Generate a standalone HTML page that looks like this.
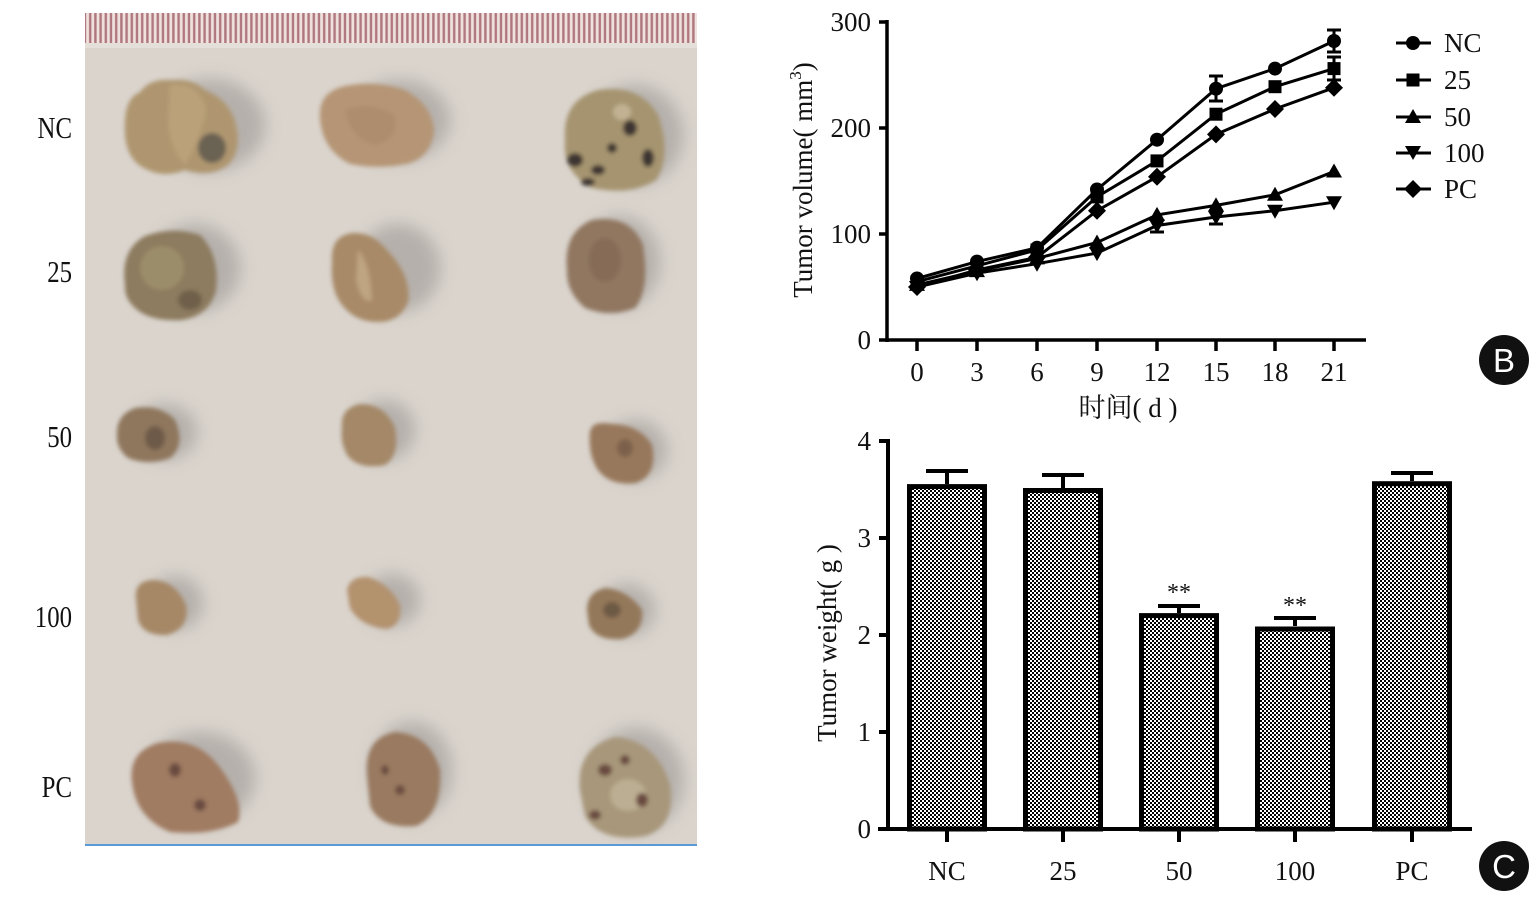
<!DOCTYPE html>
<html><head><meta charset="utf-8"><style>
html,body{margin:0;padding:0;background:#fff;}
svg{display:block;}
text{font-family:"Liberation Serif","Noto Serif CJK SC",serif;fill:#111;}
</style></head><body>
<svg width="1531" height="903" viewBox="0 0 1531 903" xmlns="http://www.w3.org/2000/svg">
<defs>
<pattern id="ck" width="4" height="4" patternUnits="userSpaceOnUse">
<rect width="4" height="4" fill="#fff"/><rect width="2" height="2" fill="#000"/><rect x="2" y="2" width="2" height="2" fill="#000"/>
</pattern>
<pattern id="ruler" width="5.2" height="30" patternUnits="userSpaceOnUse">
<rect width="5.2" height="30" fill="#efe2de"/><rect x="0.6" width="2.4" height="30" fill="#b0777e"/>
</pattern>
<filter id="bl" x="-30%" y="-30%" width="160%" height="160%"><feGaussianBlur stdDeviation="2"/></filter>
<filter id="bl2" x="-50%" y="-50%" width="200%" height="200%"><feGaussianBlur stdDeviation="3.5"/></filter>
<filter id="sh" x="-50%" y="-50%" width="200%" height="200%"><feGaussianBlur stdDeviation="8"/></filter>
</defs>

<!-- Photo panel -->
<rect x="85" y="13" width="612" height="832" fill="#dad4cd"/>
<rect x="85" y="13" width="612" height="30" fill="url(#ruler)"/>
<rect x="85" y="43" width="612" height="5" fill="#e4dfd9"/>
<rect x="85" y="844" width="612" height="2" fill="#5a9ad6"/>

<!-- shadows -->
<g fill="#a9a4a0" filter="url(#sh)" opacity="0.75">
<ellipse cx="210" cy="125" rx="55" ry="46"/><ellipse cx="400" cy="120" rx="50" ry="40"/><ellipse cx="635" cy="135" rx="48" ry="50"/>
<ellipse cx="195" cy="268" rx="45" ry="44"/><ellipse cx="398" cy="268" rx="42" ry="44"/><ellipse cx="620" cy="262" rx="40" ry="46"/>
<ellipse cx="165" cy="432" rx="32" ry="28"/><ellipse cx="385" cy="430" rx="30" ry="30"/><ellipse cx="635" cy="450" rx="32" ry="30"/>
<ellipse cx="175" cy="603" rx="28" ry="27"/><ellipse cx="392" cy="600" rx="28" ry="26"/><ellipse cx="627" cy="610" rx="28" ry="26"/>
<ellipse cx="200" cy="778" rx="55" ry="46"/><ellipse cx="412" cy="770" rx="40" ry="48"/><ellipse cx="636" cy="780" rx="48" ry="52"/>
</g>
<!-- tumors -->
<g filter="url(#bl)">
<path d="M125 120 Q126 98 140 92 Q150 78 172 80 Q192 78 205 90 Q230 100 236 125 Q242 150 228 165 Q210 178 185 170 Q165 178 148 170 Q122 160 125 120Z" fill="#af9670"/>
<path d="M170 85 Q200 82 206 110 Q200 140 185 165 Q170 150 168 120Z" fill="#bba17a"/>
<ellipse cx="212" cy="148" rx="14" ry="15" fill="#6a6252"/>
<path d="M320 118 Q318 92 345 86 Q375 80 405 90 Q432 105 434 130 Q432 155 410 163 Q380 170 350 164 Q322 150 320 118Z" fill="#b59574"/>
<path d="M345 110 Q370 100 395 115 Q400 140 375 145 Q350 140 345 110Z" fill="#ad8d6e"/>
<path d="M565 140 Q562 100 598 90 Q640 84 658 115 Q672 155 656 180 Q630 196 592 188 Q562 172 565 140Z" fill="#a6946f"/>
<g fill="#3c3530"><ellipse cx="575" cy="160" rx="8" ry="7"/><ellipse cx="598" cy="170" rx="7" ry="5"/><ellipse cx="630" cy="128" rx="7" ry="8"/><ellipse cx="648" cy="158" rx="6" ry="9"/><ellipse cx="588" cy="182" rx="7" ry="4"/><ellipse cx="612" cy="148" rx="5" ry="5"/></g>
<ellipse cx="622" cy="112" rx="9" ry="8" fill="#c2b293"/>

<path d="M125 285 Q120 250 145 236 Q172 226 200 235 Q220 255 216 290 Q210 315 182 320 Q150 322 135 308 Q124 298 125 285Z" fill="#8d7c5f"/>
<ellipse cx="162" cy="268" rx="22" ry="22" fill="#9c8d6b"/>
<ellipse cx="190" cy="300" rx="12" ry="10" fill="#6f614c"/>
<path d="M332 262 Q330 236 352 233 Q372 232 385 248 Q412 275 408 302 Q400 322 378 322 Q355 322 342 305 Q330 290 332 262Z" fill="#a88a67"/>
<path d="M358 250 Q370 262 372 300 Q362 305 356 280Z" fill="#c0a582"/>
<path d="M567 270 Q563 232 592 220 Q630 214 643 245 Q650 290 635 308 Q610 318 585 308 Q566 292 567 270Z" fill="#917760"/>
<ellipse cx="605" cy="260" rx="16" ry="22" fill="#866c56"/>

<path d="M117 435 Q116 415 135 408 Q160 404 175 420 Q186 445 170 458 Q148 466 128 458 Q116 448 117 435Z" fill="#8f775d"/>
<ellipse cx="155" cy="438" rx="10" ry="12" fill="#6e5a48"/>
<path d="M342 428 Q340 408 360 404 Q385 404 395 428 Q400 455 385 465 Q358 470 347 455 Q340 442 342 428Z" fill="#a48868"/>
<path d="M590 432 Q592 420 612 424 Q640 425 652 445 Q658 475 636 483 Q610 486 598 470 Q588 455 590 432Z" fill="#98785c"/>
<ellipse cx="625" cy="448" rx="8" ry="9" fill="#7d614c"/>

<path d="M136 598 Q134 580 155 580 Q176 582 186 605 Q190 628 167 635 Q143 636 138 620Z" fill="#a68866"/>
<path d="M347 590 Q350 576 368 577 Q390 584 400 605 Q402 626 386 629 Q360 626 350 608Z" fill="#b3926e"/>
<path d="M587 610 Q587 592 605 588 Q628 590 642 610 Q644 633 622 639 Q596 641 589 625Z" fill="#94785a"/>
<ellipse cx="612" cy="610" rx="9" ry="8" fill="#6d5a45"/>

<path d="M132 782 Q128 752 158 743 Q195 736 218 765 Q245 800 238 822 Q212 836 170 832 Q136 818 132 782Z" fill="#a07c62"/>
<path d="M367 775 Q364 738 395 732 Q430 734 440 770 Q442 815 416 826 Q380 829 370 806Z" fill="#9a7a60"/>
<path d="M580 790 Q576 748 615 737 Q656 740 670 785 Q676 826 645 836 Q600 843 585 816Z" fill="#a8977a"/>
<ellipse cx="628" cy="795" rx="18" ry="16" fill="#bcae92"/>
<g fill="#6a4c40"><ellipse cx="605" cy="770" rx="7" ry="6"/><ellipse cx="642" cy="800" rx="6" ry="7"/><ellipse cx="595" cy="815" rx="6" ry="5"/><ellipse cx="625" cy="760" rx="5" ry="5"/><ellipse cx="175" cy="770" rx="6" ry="7"/><ellipse cx="200" cy="805" rx="6" ry="6"/><ellipse cx="400" cy="790" rx="5" ry="5"/><ellipse cx="385" cy="770" rx="4" ry="5"/></g>
</g>

<!-- row labels -->
<g font-size="31" text-anchor="end">
<text x="72" y="138" transform="translate(72 0) scale(0.8 1) translate(-72 0)">NC</text>
<text x="72" y="282" transform="translate(72 0) scale(0.8 1) translate(-72 0)">25</text>
<text x="72" y="447" transform="translate(72 0) scale(0.8 1) translate(-72 0)">50</text>
<text x="72" y="627" transform="translate(72 0) scale(0.8 1) translate(-72 0)">100</text>
<text x="72" y="797" transform="translate(72 0) scale(0.8 1) translate(-72 0)">PC</text>
</g>

<!-- Chart B -->
<g stroke="#000" stroke-width="3.5" fill="none">
<line x1="887" y1="20" x2="887" y2="342"/>
<line x1="879" y1="340" x2="1366" y2="340"/>
<line x1="879" y1="22" x2="887" y2="22"/>
<line x1="879" y1="128" x2="887" y2="128"/>
<line x1="879" y1="234" x2="887" y2="234"/>
<line x1="917" y1="340" x2="917" y2="351"/><line x1="977" y1="340" x2="977" y2="351"/><line x1="1037" y1="340" x2="1037" y2="351"/><line x1="1097" y1="340" x2="1097" y2="351"/><line x1="1157" y1="340" x2="1157" y2="351"/><line x1="1216" y1="340" x2="1216" y2="351"/><line x1="1275" y1="340" x2="1275" y2="351"/><line x1="1334" y1="340" x2="1334" y2="351"/>
</g>
<g font-size="27" text-anchor="end">
<text x="871" y="31">300</text><text x="871" y="137">200</text><text x="871" y="243">100</text><text x="871" y="349">0</text>
</g>
<g font-size="27" text-anchor="middle">
<text x="917" y="381">0</text><text x="977" y="381">3</text><text x="1037" y="381">6</text><text x="1097" y="381">9</text><text x="1157" y="381">12</text><text x="1216" y="381">15</text><text x="1275" y="381">18</text><text x="1334" y="381">21</text>
<text x="1128" y="417">时间( d )</text>
</g>
<text font-size="27" text-anchor="middle" transform="translate(812 180) rotate(-90)">Tumor volume( mm<tspan font-size="17" dy="-11">3</tspan><tspan dy="11">)</tspan></text>

<!-- series lines -->
<g stroke="#000" stroke-width="3" fill="none">
<polyline points="917,278.5 977,261.6 1037,247.8 1097,189.5 1157,139.7 1216,88.7 1275,68.6 1334,41"/>
<polyline points="917,281.7 977,265.8 1037,249.9 1097,196.9 1157,160.9 1216,114.2 1275,86.7 1334,68.6"/>
<polyline points="917,284.9 977,271.1 1037,258.4 1097,242.5 1157,214.9 1216,205.4 1275,194.8 1334,171.5"/>
<polyline points="917,287 977,273.2 1037,263.7 1097,253.1 1157,225.5 1216,217 1275,210.7 1334,202.2"/>
<polyline points="917,287 977,270 1037,257.3 1097,210.7 1157,176.8 1216,134.4 1275,109 1334,87.7"/>
<line x1="1216" y1="76" x2="1216" y2="101"/><line x1="1209" y1="76" x2="1223" y2="76"/><line x1="1209" y1="101" x2="1223" y2="101"/>
<line x1="1334" y1="30" x2="1334" y2="52"/><line x1="1327" y1="30" x2="1341" y2="30"/><line x1="1327" y1="52" x2="1341" y2="52"/>
<line x1="1334" y1="57" x2="1334" y2="80"/><line x1="1327" y1="57" x2="1341" y2="57"/><line x1="1327" y1="80" x2="1341" y2="80"/>
<line x1="1157" y1="225" x2="1157" y2="232"/><line x1="1150" y1="232" x2="1164" y2="232"/>
<line x1="1216" y1="217" x2="1216" y2="224"/><line x1="1209" y1="224" x2="1223" y2="224"/>
</g>
<g fill="#000">
<circle cx="917" cy="278.5" r="7"/><circle cx="977" cy="261.6" r="7"/><circle cx="1037" cy="247.8" r="7"/><circle cx="1097" cy="189.5" r="7"/><circle cx="1157" cy="139.7" r="7"/><circle cx="1216" cy="88.7" r="7"/><circle cx="1275" cy="68.6" r="7"/><circle cx="1334" cy="41" r="7"/>
<rect x="910.5" y="275.2" width="13" height="13"/><rect x="970.5" y="259.3" width="13" height="13"/><rect x="1030.5" y="243.4" width="13" height="13"/><rect x="1090.5" y="190.4" width="13" height="13"/><rect x="1150.5" y="154.4" width="13" height="13"/><rect x="1209.5" y="107.7" width="13" height="13"/><rect x="1268.5" y="80.2" width="13" height="13"/><rect x="1327.5" y="62.1" width="13" height="13"/>
<polygon points="917,276.9 925,290.9 909,290.9"/><polygon points="977,263.1 985,277.1 969,277.1"/><polygon points="1037,250.4 1045,264.4 1029,264.4"/><polygon points="1097,234.5 1105,248.5 1089,248.5"/><polygon points="1157,206.9 1165,220.9 1149,220.9"/><polygon points="1216,197.4 1224,211.4 1208,211.4"/><polygon points="1275,186.8 1283,200.8 1267,200.8"/><polygon points="1334,163.5 1342,177.5 1326,177.5"/>
<polygon points="909,281 925,281 917,295"/><polygon points="969,267.2 985,267.2 977,281.2"/><polygon points="1029,257.7 1045,257.7 1037,271.7"/><polygon points="1089,247.1 1105,247.1 1097,261.1"/><polygon points="1149,219.5 1165,219.5 1157,233.5"/><polygon points="1208,211 1224,211 1216,225"/><polygon points="1267,204.7 1283,204.7 1275,218.7"/><polygon points="1326,196.2 1342,196.2 1334,210.2"/>
<polygon points="917,278 926,287 917,296 908,287"/><polygon points="977,261 986,270 977,279 968,270"/><polygon points="1037,248.3 1046,257.3 1037,266.3 1028,257.3"/><polygon points="1097,201.7 1106,210.7 1097,219.7 1088,210.7"/><polygon points="1157,167.8 1166,176.8 1157,185.8 1148,176.8"/><polygon points="1216,125.4 1225,134.4 1216,143.4 1207,134.4"/><polygon points="1275,100 1284,109 1275,118 1266,109"/><polygon points="1334,78.7 1343,87.7 1334,96.7 1325,87.7"/>
</g>

<!-- legend -->
<g stroke="#000" stroke-width="3">
<line x1="1396" y1="43" x2="1431" y2="43"/><line x1="1396" y1="80" x2="1431" y2="80"/><line x1="1396" y1="117" x2="1431" y2="117"/><line x1="1396" y1="153" x2="1431" y2="153"/><line x1="1396" y1="189" x2="1431" y2="189"/>
</g>
<g fill="#000">
<circle cx="1413" cy="43" r="7"/>
<rect x="1406.5" y="73.5" width="13" height="13"/>
<polygon points="1413,109 1421,123 1405,123"/>
<polygon points="1405,146 1421,146 1413,160"/>
<polygon points="1413,180 1422,189 1413,198 1404,189"/>
</g>
<g font-size="27">
<text x="1444" y="52">NC</text><text x="1444" y="89">25</text><text x="1444" y="126">50</text><text x="1444" y="162">100</text><text x="1444" y="198">PC</text>
</g>
<circle cx="1504" cy="360" r="25" fill="#111"/>
<text x="1504" y="372" font-size="33" text-anchor="middle" style="font-family:'Liberation Sans',sans-serif;fill:#fff">B</text>

<!-- Chart C -->
<g stroke="#000" stroke-width="5" fill="url(#ck)">
<rect x="909.5" y="486.6" width="75" height="342.4"/>
<rect x="1025.5" y="490.5" width="75" height="338.5"/>
<rect x="1141.5" y="615.6" width="75" height="213.4"/>
<rect x="1257.5" y="629" width="75" height="200"/>
<rect x="1374.5" y="483.7" width="75" height="345.3"/>
</g>
<g stroke="#000" stroke-width="4" fill="none">
<line x1="947" y1="484" x2="947" y2="471"/><line x1="926" y1="471" x2="968" y2="471"/>
<line x1="1063" y1="488" x2="1063" y2="475"/><line x1="1042" y1="475" x2="1084" y2="475"/>
<line x1="1179" y1="613" x2="1179" y2="606"/><line x1="1158" y1="606" x2="1200" y2="606"/>
<line x1="1295" y1="626" x2="1295" y2="618"/><line x1="1274" y1="618" x2="1316" y2="618"/>
<line x1="1412" y1="481" x2="1412" y2="473"/><line x1="1391" y1="473" x2="1433" y2="473"/>
<line x1="888" y1="439" x2="888" y2="831"/>
<line x1="878" y1="829" x2="1472" y2="829"/>
<line x1="879" y1="441" x2="888" y2="441"/><line x1="879" y1="538" x2="888" y2="538"/><line x1="879" y1="635" x2="888" y2="635"/><line x1="879" y1="732" x2="888" y2="732"/>
<line x1="947" y1="829" x2="947" y2="842"/><line x1="1063" y1="829" x2="1063" y2="842"/><line x1="1179" y1="829" x2="1179" y2="842"/><line x1="1295" y1="829" x2="1295" y2="842"/><line x1="1412" y1="829" x2="1412" y2="842"/>
</g>
<g font-size="27" text-anchor="end">
<text x="871" y="450">4</text><text x="871" y="547">3</text><text x="871" y="644">2</text><text x="871" y="741">1</text><text x="871" y="838">0</text>
</g>
<g font-size="27" text-anchor="middle">
<text x="947" y="880">NC</text><text x="1063" y="880">25</text><text x="1179" y="880">50</text><text x="1295" y="880">100</text><text x="1412" y="880">PC</text>
<text x="1179" y="600" font-size="24">**</text><text x="1295" y="613" font-size="24">**</text>
</g>
<text font-size="27" text-anchor="middle" transform="translate(836 643) rotate(-90)">Tumor weight( g )</text>
<circle cx="1504" cy="866" r="25" fill="#111"/>
<text x="1504" y="878" font-size="33" text-anchor="middle" style="font-family:'Liberation Sans',sans-serif;fill:#fff">C</text>
</svg>
</body></html>
